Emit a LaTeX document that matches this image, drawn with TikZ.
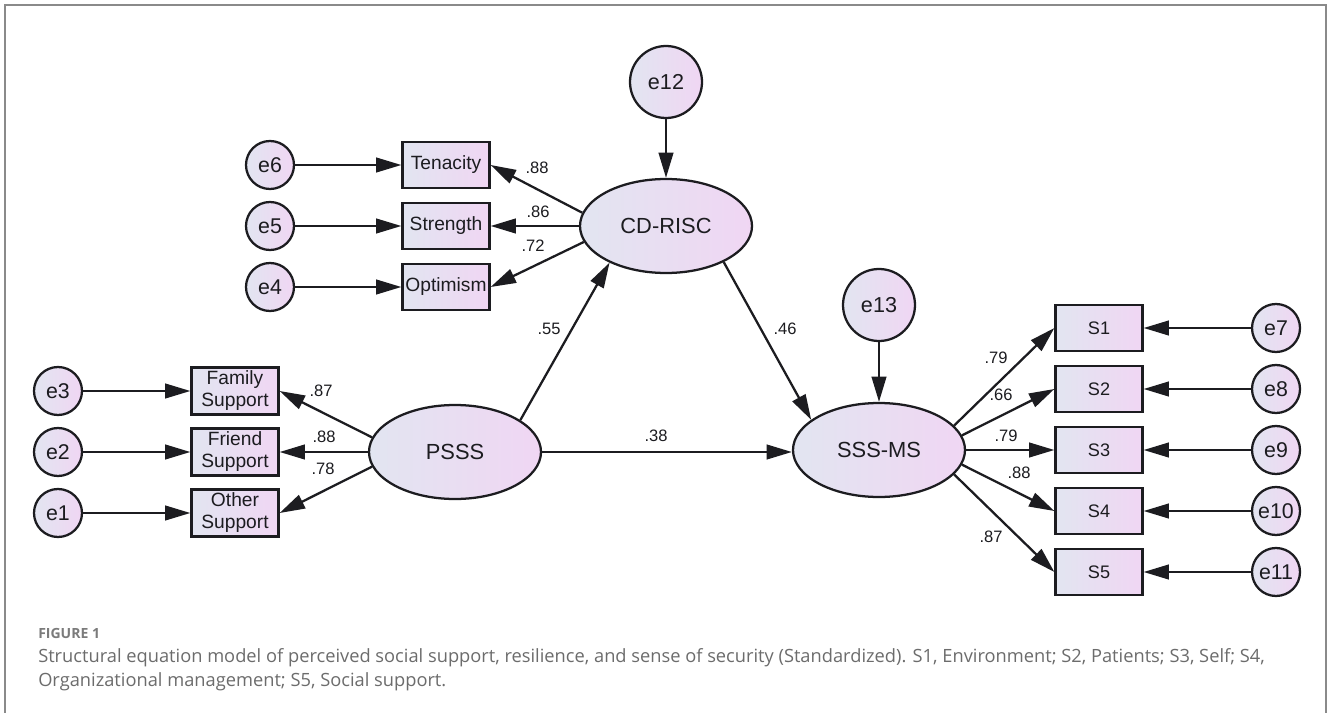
\documentclass[tikz,border=0pt]{standalone}
\usepackage{fontspec}
\setmainfont{Liberation Sans}
\newfontfamily\capfont{Open Sans}
\usetikzlibrary{arrows.meta,shapes.geometric}
\newcommand\pxu{0.75pt}
\definecolor{gradL}{RGB}{226,229,241}
\definecolor{gradR}{RGB}{240,214,243}
\definecolor{framegray}{RGB}{138,138,138}
\definecolor{inkc}{RGB}{28,28,32}
\definecolor{capgray}{RGB}{108,108,108}
\tikzset{
  grad/.style={left color=gradL, right color=gradR, draw=inkc, line width=1.7pt},
  latent/.style={grad, ellipse, inner sep=0pt, minimum width=172*\pxu, minimum height=94*\pxu,
    font=\fontsize{16.4}{18}\selectfont, text=inkc},
  errbig/.style={grad, circle, inner sep=0pt, minimum size=72*\pxu,
    font=\fontsize{16.2}{18}\selectfont, text=inkc},
  errsmall/.style={grad, circle, inner sep=0pt, minimum size=48*\pxu,
    font=\fontsize{16}{18}\selectfont, text=inkc},
  obsbox/.style={grad, rectangle, inner sep=0pt, minimum width=87*\pxu, minimum height=46*\pxu,
    align=center, font=\fontsize{14.4}{16.5}\selectfont, text=inkc},
  sbox/.style={obsbox, font=\fontsize{13.6}{16}\selectfont},
  arr/.style={draw=inkc, line width=1.7pt, -{Triangle[length=19pt,width=11pt]}},
  lab/.style={inner sep=0pt, font=\fontsize{12.4}{14}\selectfont, text=inkc},
  captext/.style={inner sep=0pt, anchor=base west, text=capgray},
}
\begin{document}
\begin{tikzpicture}[x=0.75pt,y=-0.75pt]
\useasboundingbox (0,0) rectangle (1328,713);
\fill[white] (0,0) rectangle (1328,713);
% open frame around the figure
\draw[framegray, line width=1.6pt] (5,713) -- (5,5) -- (1326,5) -- (1326,713);

% latent variables
\node[latent] (cd) at (666,226) {CD-RISC};
\node[latent] (ps) at (455,452) {PSSS};
\node[latent] (ss) at (879,450) {SSS-MS};

% disturbances
\node[errbig] (e12) at (666,82) {e12};
\node[errbig] (e13) at (879,305) {e13};

% resilience indicators
\node[obsbox] (ten) at (446,165) {Tenacity};
\node[obsbox] (str) at (446,226) {Strength};
\node[obsbox] (opt) at (446,287) {Optimism};
\node[errsmall] (e6) at (270,165) {e6};
\node[errsmall] (e5) at (270,226) {e5};
\node[errsmall] (e4) at (270,287) {e4};

% social support indicators
\node[obsbox, minimum height=47*\pxu] (fam) at (235,391) {Family\\Support};
\node[obsbox, minimum height=47*\pxu] (fri) at (235,452) {Friend\\Support};
\node[obsbox, minimum height=47*\pxu] (oth) at (235,513) {Other\\Support};
\node[errsmall] (e3) at (58,391) {e3};
\node[errsmall] (e2) at (58,452) {e2};
\node[errsmall] (e1) at (58,513) {e1};

% sense of security indicators
\node[sbox] (s1) at (1099,328) {S1};
\node[sbox] (s2) at (1099,389) {S2};
\node[sbox] (s3) at (1099,450) {S3};
\node[sbox] (s4) at (1099,511) {S4};
\node[sbox] (s5) at (1099,572) {S5};
\node[errsmall] (e7) at (1276,328) {e7};
\node[errsmall] (e8) at (1276,389) {e8};
\node[errsmall] (e9) at (1276,450) {e9};
\node[errsmall] (e10) at (1276,511) {e10};
\node[errsmall] (e11) at (1276,572) {e11};

% error paths
\draw[arr] (e6) -- (ten);
\draw[arr] (e5) -- (str);
\draw[arr] (e4) -- (opt);
\draw[arr] (e3) -- (fam);
\draw[arr] (e2) -- (fri);
\draw[arr] (e1) -- (oth);
\draw[arr] (e7) -- (s1);
\draw[arr] (e8) -- (s2);
\draw[arr] (e9) -- (s3);
\draw[arr] (e10) -- (s4);
\draw[arr] (e11) -- (s5);
\draw[arr] (e12) -- (cd);
\draw[arr] (e13) -- (ss);

% loadings
\draw[arr] (cd.171) -- (ten.east);
\draw[arr] (cd.west) -- (str.east);
\draw[arr] (cd.191) -- (opt.east);
\draw[arr] (ps.170) -- (fam.east);
\draw[arr] (ps.west) -- (fri.east);
\draw[arr] (ps.190) -- (oth.east);
\draw[arr] (ss.18) -- (s1.west);
\draw[arr] (ss.10.8) -- (s2.west);
\draw[arr] (ss.east) -- (s3.west);
\draw[arr] (ss.-10.8) -- (s4.west);
\draw[arr] (ss.-18) -- (s5.west);

% structural paths
\draw[arr] (ps.26.6) -- (cd.213);
\draw[arr] (ps.east) -- (ps.east -| ss.west);
\draw[arr] (cd.-32) -- (ss.156.8);

% coefficients
\node[lab] (l88a) at (537,168) {.88};
\node[lab] (l86) at (538,212) {.86};
\node[lab] (l72) at (533,246) {.72};
\node[lab] (l87a) at (321,391) {.87};
\node[lab] (l88b) at (324,437) {.88};
\node[lab] (l78) at (323,469) {.78};
\node[lab] (l55) at (549,329) {.55};
\node[lab] (l38) at (656,436) {.38};
\node[lab] (l46) at (785,329) {.46};
\node[lab] (l79a) at (996,358) {.79};
\node[lab] (l66) at (1001,395) {.66};
\node[lab] (l79b) at (1006,436) {.79};
\node[lab] (l88c) at (1019,473) {.88};
\node[lab] (l87b) at (991,537) {.87};

% caption
\node[captext, font=\capfont\bfseries\fontsize{10.5}{12}\selectfont, text=capgray!90] (fig) at (38,638) {FIGURE 1};
\node[captext, font=\capfont\fontsize{13.7}{16}\selectfont] (capa) at (38,662)
  {Structural equation model of perceived social support, resilience, and sense of security (Standardized). S1, Environment; S2, Patients; S3, Self; S4,};
\node[captext, font=\capfont\fontsize{13.7}{16}\selectfont] (capb) at (38,686)
  {Organizational management; S5, Social support.};
\end{tikzpicture}
\end{document}
